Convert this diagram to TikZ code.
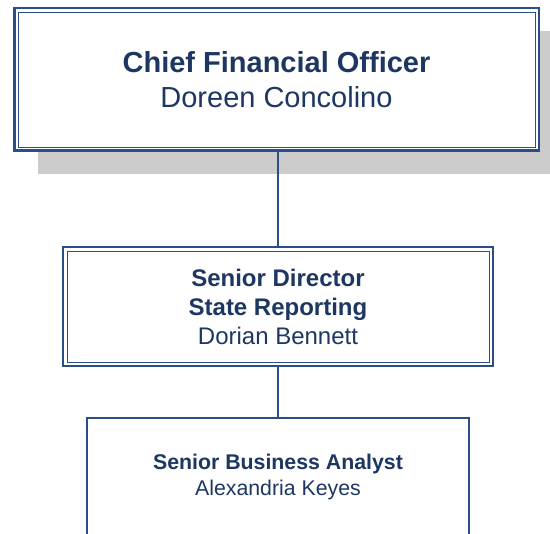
\documentclass[tikz,border=0pt]{standalone}
\usepackage{fontspec}
\setmainfont{Liberation Sans}
\usetikzlibrary{positioning,shadows}
\definecolor{navy}{HTML}{1E3762}
\definecolor{rule}{HTML}{2A4F86}
\definecolor{shade}{HTML}{CCCCCC}
\tikzset{
  officebox/.style={draw=rule, fill=white, rectangle, inner sep=0pt,
                    align=center, text=navy},
  link/.style={draw=rule, line width=1.5pt}
}
\begin{document}
\begin{tikzpicture}[x=1pt,y=-1pt]
  \useasboundingbox (0,0) rectangle (550,534);
  \clip (0,0) rectangle (550,534);
  \fill[white] (0,0) rectangle (550,534);

  % top of the chart
  \node[officebox,line width=2.5pt,minimum width=524.5pt,minimum height=142.5pt,
        drop shadow={shadow xshift=24pt,shadow yshift=-23pt,fill=shade,opacity=1},
        font=\fontsize{29}{35}\selectfont] (cfo) at (276.5,79.5)
    {\textbf{Chief Financial Officer}\\Doreen Concolino};
  \draw[draw=rule,line width=0.9pt] ([shift={(5,5)}]cfo.north west) rectangle ([shift={(-5,-5)}]cfo.south east);

  \node[officebox,line width=2pt,minimum width=430pt,minimum height=119pt,
        font=\fontsize{24}{29}\selectfont] (dir) at (278,306.5)
    {\textbf{Senior Director}\\\textbf{State Reporting}\\Dorian Bennett};
  \draw[draw=rule,line width=0.9pt] ([shift={(5,5)}]dir.north west) rectangle ([shift={(-5,-5)}]dir.south east);

  \node[officebox,line width=2pt,minimum width=382pt,minimum height=118pt,
        font=\fontsize{21.3}{26}\selectfont] (analyst) at (278,477)
    {\textbf{Senior Business Analyst}\\Alexandria Keyes};

  \draw[link] (dir.north) -- (dir.north |- cfo.south);
  \draw[link] (dir.south) -- (analyst.north);
\end{tikzpicture}
\end{document}
